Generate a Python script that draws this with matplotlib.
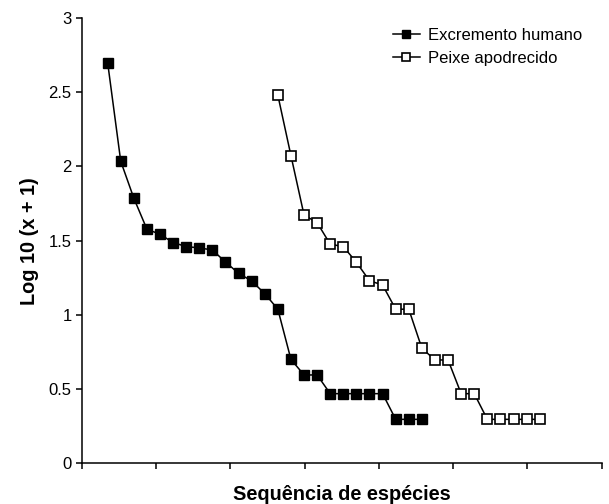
import numpy as np
import matplotlib
matplotlib.use("Agg")
import matplotlib.pyplot as plt

plt.rcParams['font.family'] = ['Liberation Sans', 'DejaVu Sans']

# valores (log10(x+1))
humano = [2.70, 2.035, 1.786, 1.577, 1.543, 1.487, 1.46, 1.451, 1.437, 1.356,
          1.28, 1.228, 1.143, 1.038, 0.70, 0.595, 0.595, 0.469, 0.469, 0.469,
          0.469, 0.469, 0.296, 0.296, 0.296]
peixe = [2.48, 2.073, 1.673, 1.621, 1.476, 1.46, 1.354, 1.23, 1.201, 1.038,
         1.038, 0.775, 0.696, 0.696, 0.469, 0.469, 0.296, 0.296, 0.296, 0.296,
         0.296]
x_humano = np.arange(1, len(humano) + 1)
x_peixe = np.arange(14, 14 + len(peixe))

yticks = [0, 0.5, 1, 1.5, 2, 2.5, 3]
ylabels = ['0', '0.5', '1', '1.5', '2', '2.5', '3']

fig = plt.figure(figsize=(6.09, 5.04), dpi=100)
ax = fig.add_axes([0.1346, 0.0808, 0.8531, 0.8835])

ax.plot(x_humano, humano, color='black', lw=1.1, marker='s', ms=7,
        mfc='black', mec='black', label='Excremento humano')
ax.plot(x_peixe, peixe, color='black', lw=1.1, marker='s', ms=7,
        mfc='white', mec='black', mew=1.2, label='Peixe apodrecido')

xmin, xmax = -0.96, 38.72
ax.set_xlim(xmin, xmax)
ax.set_ylim(0, 3)
ax.set_xticks(np.linspace(xmin, xmax, 8))
ax.set_xticklabels([])
ax.set_yticks(yticks)
ax.set_yticklabels(ylabels, fontsize=12)

for s in ['top', 'right']:
    ax.spines[s].set_visible(False)
for s in ['left', 'bottom']:
    ax.spines[s].set_linewidth(1.1)
ax.tick_params(direction='out', length=4, width=1.1)

ax.set_xlabel('Sequência de espécies', fontsize=14.3, fontweight='bold', labelpad=8)
ax.set_ylabel('Log 10 (x + 1)', fontsize=14.3, fontweight='bold', labelpad=7)

ax.legend(loc='upper left', bbox_to_anchor=(393 / 609, 1 - 28 / 504),
          bbox_transform=fig.transFigure, frameon=False, fontsize=12,
          handlelength=1.6, handletextpad=0.5, labelspacing=0.45,
          borderpad=0, borderaxespad=0, markerscale=0.75)

fig.savefig('out.png', dpi=100)
